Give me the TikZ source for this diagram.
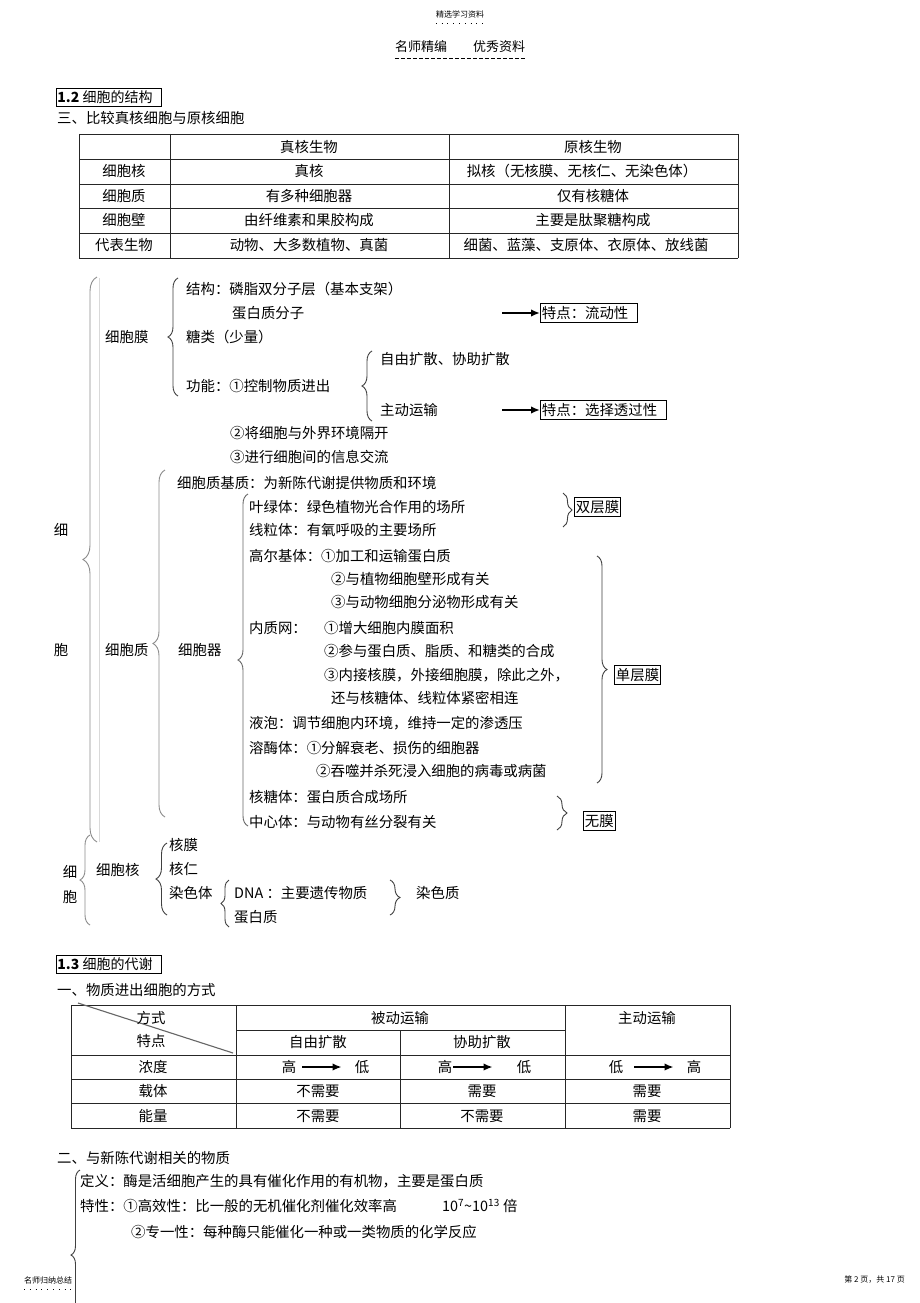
\documentclass[tikz,border=0pt]{standalone}
\usepackage{fontspec}
\setmainfont{Noto Sans CJK SC}
\usepackage{xcolor}
\usepackage{tikz}
\usetikzlibrary{arrows.meta,decorations.pathreplacing,positioning}

\begin{document}
\begin{tikzpicture}[x=1pt,y=-1pt,
  txt/.style={anchor=west,inner sep=0pt,font=\fontsize{14.4}{16}\selectfont},
  cell/.style={inner sep=0pt,font=\fontsize{14.4}{16}\selectfont},
  note/.style={inner sep=0pt,font=\fontsize{8}{9}\selectfont},
  secbox/.style={draw,line width=0.9pt,anchor=west,inner xsep=1pt,inner ysep=2.5pt,font=\fontsize{14}{16}\selectfont},
  tagbox/.style={draw,line width=0.9pt,anchor=west,inner xsep=1.5pt,inner ysep=3pt,font=\fontsize{14.4}{16}\selectfont},
  bigbrace/.style={decorate,decoration={brace,amplitude=#1},draw=black!45,line width=0.9pt},
  curly/.style={decorate,decoration={brace,amplitude=#1},draw=black!75,line width=0.9pt},
  flow/.style={-{Latex[length=9pt,width=7.5pt]},line width=1.8pt},
  tabline/.style={line width=0.8pt,black!85}]

% Page
\useasboundingbox (0,0) rectangle (920,1303);
\fill[white] (0,0) rectangle (920,1303);
\clip (0,0) rectangle (920,1303);

% Header
\node[note] (hd1) at (460,14) {精选学习资料};
\draw[dash pattern=on 0.8pt off 5pt,line width=0.8pt] ([yshift=-5pt]hd1.south west) -- ([yshift=-5pt]hd1.south east);
\node[inner sep=0pt,font=\fontsize{13}{14}\selectfont] (hd2) at (460,47) {名师精编\quad\quad 优秀资料};
\draw[dash pattern=on 4pt off 2pt,line width=0.8pt] ([yshift=-5pt]hd2.south west) -- ([yshift=-5pt]hd2.south east);

% Section 1.2
\node[secbox] (s12) at (56,97) {\textbf{1.2} 细胞的结构\hspace*{8pt}};
\node[txt] (h3) at (57,118) {三、比较真核细胞与原核细胞};

% Table: eukaryote vs prokaryote
\foreach \y in {134,159,184,208,233,258}
{
    \draw[tabline] (79,\y) -- (738,\y);
}
\foreach \x in {79,170,449,738}
{
    \draw[tabline] (\x,134) -- (\x,258);
}
\node[cell] (ta2) at (309,147) {真核生物};
\node[cell] (ta3) at (593,147) {原核生物};
\node[cell] (tb1) at (124,171) {细胞核};
\node[cell] (tb2) at (309,171) {真核};
\node[cell] (tb3) at (582,171) {拟核（无核膜、无核仁、无染色体）};
\node[cell] (tc1) at (124,196) {细胞质};
\node[cell] (tc2) at (309,196) {有多种细胞器};
\node[cell] (tc3) at (593,196) {仅有核糖体};
\node[cell] (td1) at (124,220) {细胞壁};
\node[cell] (td2) at (309,220) {由纤维素和果胶构成};
\node[cell] (td3) at (593,220) {主要是肽聚糖构成};
\node[cell] (te1) at (124,245) {代表生物};
\node[cell] (te2) at (309,245) {动物、大多数植物、真菌};
\node[cell] (te3) at (586,245) {细菌、蓝藻、支原体、衣原体、放线菌};

% Cell: big braces
\node[cell] (xi1) at (61,530) {细};
\node[cell] (bao1) at (61,650) {胞};
\draw[bigbrace=14pt] (97,842) -- (97,277);
\draw[black!15,line width=0.8pt] (99,278) -- (99,842);

% Cell membrane
\node[txt] (mem) at (105,337) {细胞膜};
\draw[curly=10pt] (178,396) -- (178,278);
\node[txt] (m1) at (186,289) {结构：磷脂双分子层（基本支架）};
\node[txt] (m2) at (232,313) {蛋白质分子};
\node[txt] (m3) at (186,337) {糖类（少量）};
\node[txt] (m4) at (186,386) {功能：①控制物质进出};
\draw[curly=10pt] (372,421) -- (372,351);
\node[txt] (m5) at (380,359) {自由扩散、协助扩散};
\node[txt] (m6) at (380,410) {主动运输};
\node[txt] (m7) at (230,433) {②将细胞与外界环境隔开};
\node[txt] (m8) at (230,457) {③进行细胞间的信息交流};
\node[tagbox] (t1) at (540,313) {特点：流动性\hspace*{8pt}};
\node[tagbox] (t2) at (540,410) {特点：选择透过性\hspace*{8pt}};
\coordinate (a1) at (502,313);
\coordinate (a2) at (502,410);
\draw[flow] (a1) -- (t1.west);
\draw[flow] (a2) -- (t2.west);

% Cytoplasm
\node[txt] (cyt) at (105,650) {细胞质};
\draw[bigbrace=12pt] (165,817) -- (165,470);
\node[txt] (c0) at (177,483) {细胞质基质：为新陈代谢提供物质和环境};
\node[txt] (org) at (178,650) {细胞器};
\draw[curly=10pt,draw=black!60] (248,826) -- (248,494);
\node[txt] (o1) at (249,507) {叶绿体：绿色植物光合作用的场所};
\node[txt] (o2) at (249,530) {线粒体：有氧呼吸的主要场所};
\node[txt] (o3) at (249,556) {高尔基体：①加工和运输蛋白质};
\node[txt] (o4) at (331,579) {②与植物细胞壁形成有关};
\node[txt] (o5) at (331,602) {③与动物细胞分泌物形成有关};
\node[txt] (o6) at (249,628) {内质网：};
\node[txt] (o7) at (324,628) {①增大细胞内膜面积};
\node[txt] (o8) at (324,651) {②参与蛋白质、脂质、和糖类的合成};
\node[txt] (o9) at (324,675) {③内接核膜，外接细胞膜，除此之外，};
\node[txt] (o10) at (331,698) {还与核糖体、线粒体紧密相连};
\node[txt] (o11) at (249,723) {液泡：调节细胞内环境，维持一定的渗透压};
\node[txt] (o12) at (249,748) {溶酶体：①分解衰老、损伤的细胞器};
\node[txt] (o13) at (316,771) {②吞噬并杀死浸入细胞的病毒或病菌};
\node[txt] (o14) at (249,797) {核糖体：蛋白质合成场所};
\node[txt] (o15) at (249,822) {中心体：与动物有丝分裂有关};

% Membrane groups
\draw[curly=9pt] (563,493) -- (563,527);
\node[tagbox] (b1) at (574,507) {双层膜};
\draw[curly=10pt] (597,556) -- (597,783);
\node[tagbox] (b2) at (614,675) {单层膜};
\draw[curly=10pt] (557,796) -- (557,830);
\node[tagbox] (b3) at (583,821) {无膜};

% Nucleus
\node[cell] (xi2) at (70,872) {细};
\node[cell] (bao2) at (70,897) {胞};
\draw[bigbrace=10pt] (90,925) -- (90,835);
\node[txt] (nuc) at (96,870) {细胞核};
\draw[curly=11pt] (167,915) -- (167,843);
\node[txt] (n1) at (169,845) {核膜};
\node[txt] (n2) at (169,869) {核仁};
\node[txt] (n3) at (169,893) {染色体};
\draw[curly=8pt] (229,927) -- (229,880);
\node[txt] (n4) at (234,893) {DNA ：主要遗传物质};
\node[txt] (n5) at (234,917) {蛋白质};
\draw[curly=10pt] (390,880) -- (390,915);
\node[txt] (n6) at (416,893) {染色质};

% Section 1.3
\node[secbox] (s13) at (56,964) {\textbf{1.3} 细胞的代谢\hspace*{8pt}};
\node[txt] (h1) at (57,990) {一、物质进出细胞的方式};

% Table: ways of transport
\draw[tabline] (71,1005) -- (730,1005);
\draw[tabline] (236,1030) -- (565,1030);
\foreach \y in {1055,1079,1103,1128}
{
    \draw[tabline] (71,\y) -- (730,\y);
}
\foreach \x in {71,236,565,730}
{
    \draw[tabline] (\x,1005) -- (\x,1128);
}
\draw[tabline] (400,1030) -- (400,1128);
\draw[black!60,line width=1.1pt] (78,1003) -- (233,1053);
\node[cell] (ua1) at (151,1018) {方式};
\node[cell] (ub1) at (151,1041) {特点};
\node[cell] (ua2) at (400,1018) {被动运输};
\node[cell] (ua4) at (647,1018) {主动运输};
\node[cell] (ub2) at (318,1042) {自由扩散};
\node[cell] (ub3) at (482,1042) {协助扩散};
\node[cell] (uc1) at (153,1067) {浓度};
\node[cell] (ud1) at (153,1091) {载体};
\node[cell] (ue1) at (153,1116) {能量};

% Concentration arrows
\node[cell] (g1) at (289,1067) {高};
\node[cell] (d1) at (362,1067) {低};
\node[cell] (g2) at (445,1067) {高};
\node[cell] (d2) at (524,1067) {低};
\node[cell] (d3) at (616,1067) {低};
\node[cell] (g3) at (694,1067) {高};
\draw[flow] ([xshift=6pt]g1.east) -- ([xshift=-13pt]d1.west);
\draw[flow] ([xshift=1pt]g2.east) -- ([xshift=-24pt]d2.west);
\draw[flow] ([xshift=11pt]d3.east) -- ([xshift=-13pt]g3.west);

\node[cell] (ud2) at (318,1091) {不需要};
\node[cell] (ud3) at (482,1091) {需要};
\node[cell] (ud4) at (647,1091) {需要};
\node[cell] (ue2) at (318,1116) {不需要};
\node[cell] (ue3) at (482,1116) {不需要};
\node[cell] (ue4) at (647,1116) {需要};

% Enzymes
\node[txt] (h2) at (57,1158) {二、与新陈代谢相关的物质};
\draw[curly=9pt] (80,1340) -- (80,1170);
\node[txt] (e1) at (80,1181) {定义：酶是活细胞产生的具有催化作用的有机物，主要是蛋白质};
\node[txt] (e2) at (80,1206) {特性：①高效性：比一般的无机催化剂催化效率高};
\node[txt] (e3) at (442,1206) {10\textsuperscript{7}\textasciitilde10\textsuperscript{13} 倍};
\node[txt] (e4) at (131,1232) {②专一性：每种酶只能催化一种或一类物质的化学反应};

% Footer
\node[note,anchor=west] (ft1) at (24,1280) {名师归纳总结};
\draw[dash pattern=on 0.8pt off 5pt,line width=0.8pt] ([yshift=-5pt]ft1.south west) -- ([yshift=-5pt]ft1.south east);
\node[note,anchor=east] (ft2) at (905,1280) {第 2 页，共 17 页};

\end{tikzpicture}
\end{document}
